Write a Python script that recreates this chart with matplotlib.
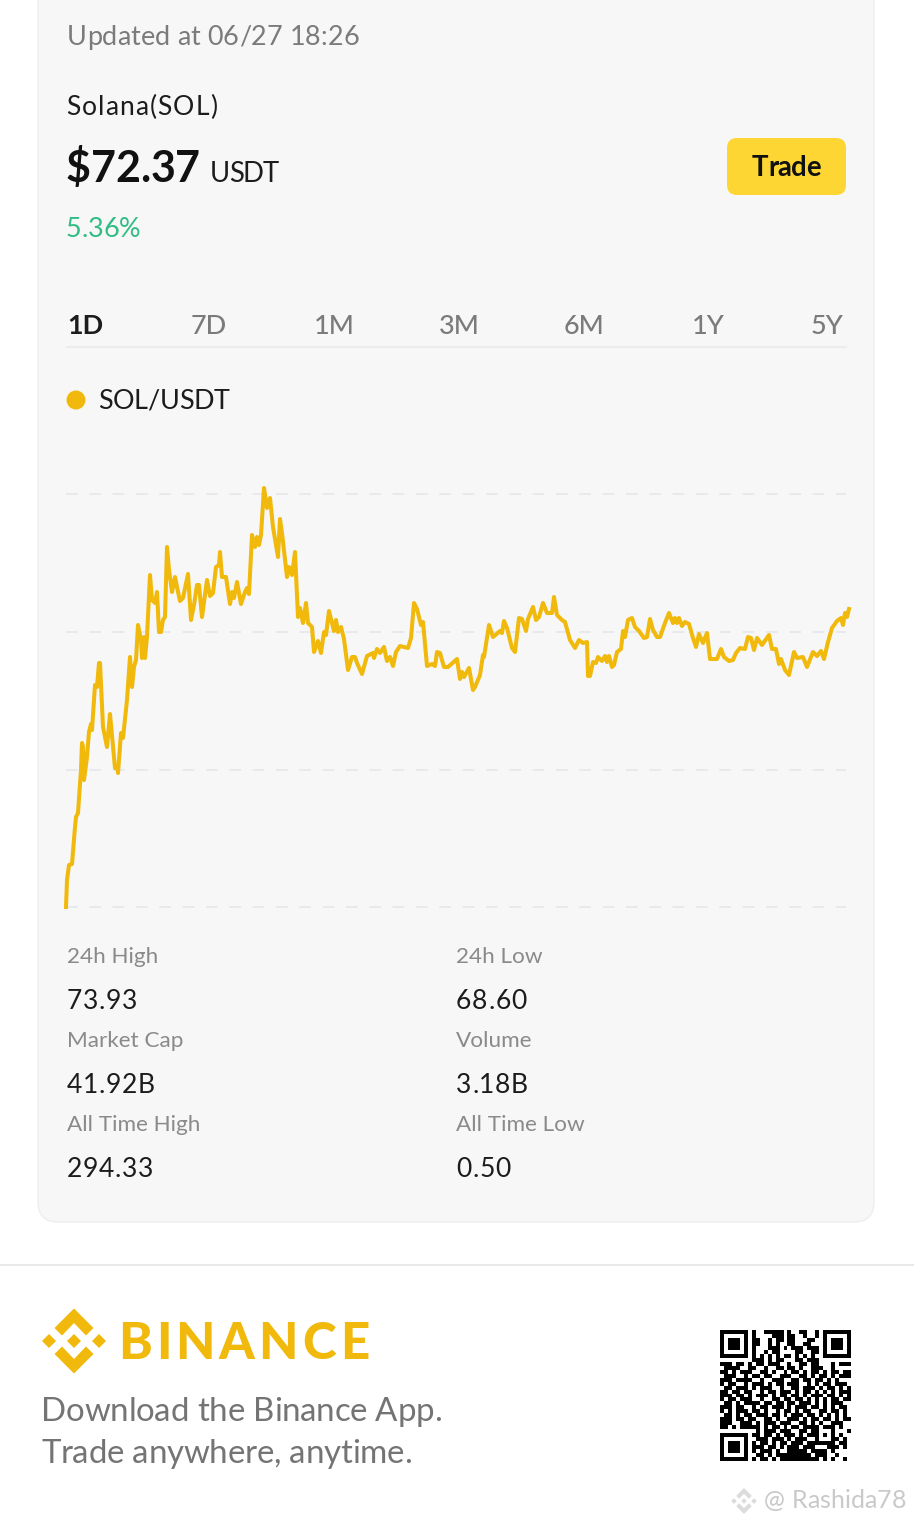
'''
Binance share card for SOL/USDT, 1D price chart
'''
import matplotlib
matplotlib.use('Agg')
import matplotlib.pyplot as plt
import matplotlib.patches as patches

## DATA ##

# time along the day (0 = open, 783 = now) and price level above the day's low
time_index = [0,1,3,6,9,10,12,15,16,17,18,21,23,25,26,29,31,33,34,37,38,41,44,49,51,52,55,57,61,64,66,68,70,72,75,76,78,79,81,84,86,89,91,93,95,97,99,101,103,106,109,111,114,117,122,125,128,131,133,136,141,144,147,150,153,154,156,160,164,166,168,171,175,179,181,183,186,189,191,193,195,198,201,204,207,212,214,216,221,223,226,229,232,234,237,240,242,246,248,252,255,258,260,263,
    268,270,272,275,278,282,286,289,291,296,301,307,308,311,314,318,321,324,327,330,334,342,345,348,351,355,357,361,366,369,371,374,378,382,391,394,396,398,403,407,409,414,417,418,423,427,434,436,438,441,446,449,453,456,460,462,467,470,473,477,481,486,488,491,496,499,
    504,509,513,517,521,522,524,527,530,532,536,539,541,543,546,548,551,555,557,559,562,566,569,573,578,581,584,587,591,594,599,603,607,609,611,613,616,619,623,627,630,633,637,641,644,651,655,658,663,667,670,674,679,682,685,688,691,696,703,706,710,713,715,719,723,728,731,737,741,747,751,755,758,762,766,771,775,777,779,781,783]
price_level = [0,27,42,43,80,90,94,137,164,160,127,150,175,183,177,222,220,244,244,180,175,160,193,139,141,134,174,169,207,250,220,240,247,282,267,249,270,249,270,332,307,304,315,275,275,287,290,360,337,315,330,320,306,309,333,287,302,322,322,290,327,311,314,340,342,355,330,330,303,315,309,325,303,315,319,313,372,360,370,362,372,419,399,409,380,350,388,374,330,340,332,355,290,299,284,304,284,280,255,266,254,275,272,296,
    276,287,275,280,268,237,250,250,244,233,251,254,249,258,254,260,246,250,241,255,261,259,269,304,298,282,285,241,243,241,255,254,240,240,248,228,235,230,239,217,220,232,252,250,282,270,276,274,286,279,259,255,289,288,276,288,300,287,290,304,294,294,310,292,287,285,
    267,259,267,264,265,231,231,245,244,250,246,251,245,251,240,242,255,258,276,270,287,289,280,276,269,270,288,277,270,270,284,294,284,289,284,289,281,285,283,269,260,273,264,274,248,248,258,250,246,247,254,259,258,270,269,257,269,262,272,258,258,243,248,237,232,255,249,250,240,255,251,256,248,265,279,286,289,282,294,290,298]
grid_levels = [0, 137, 275, 413]

tab_labels = ['1D', '7D', '1M', '3M', '6M', '1Y', '5Y']
stat_labels_left = ['24h High', 'Market Cap', 'All Time High']
stat_values_left = ['73.93', '41.92B', '294.33']
stat_labels_right = ['24h Low', 'Volume', 'All Time Low']
stat_values_right = ['68.60', '3.18B', '0.50']

# qr code, rows of modules as they look in the picture
qr_rows = [
    '#######.#..#####.#..##..#.#######',
    '#.....#.#....###.##..#..#.#.....#',
    '#.###.#.##..#.##.##...##..#.###.#',
    '#.###.#.##..#.#..##..##...#.###.#',
    '#.###.#.#...###.#.###.###.#.###.#',
    '#.....#.#..#.##....##..##.#.....#',
    '#######.#.#.#.#.##.#.#.#..#######',
    '........###.#.##...##.###........',
    '###.##.#.##.###..#..##.##...#.###',
    '.####..##..#..##.##.#..###..#....',
    '##.#.###..##.#..#.##.#.##.#.##.##',
    '.###..#.##.##..###..##.#.##.#.###',
    '###.####..#..###..##.##.##.#.#...',
    '#.##..#.###.#.##.###..#.#.##.###.',
    '.##.###.#.###..#..##.###.#.##.#.#',
    '##.##.##..#.##.###.#.##.#.#.#.###',
    '###.##.#.###.#.##.##.#.###.##.#.#',
    '#.##.###..#..##.##.##.#.#.#.##.##',
    '.##.#.####.##.##.##.###.#.#.###..',
    '###.##..#.##.###.#.###.##.#.#.##.',
    '#.#.###.##.#..#.##.#.##..##.##.#.',
    '.##.#.##.###.##.#.###.##.#.#.#.#.',
    '###.##.##..##.#..###.#.##.##.#.##',
    '###..###.#.###.###..##.#.#..###..',
    '##.#.#####.#.##.#.##.####.###.#..',
    '.........#.###.###..##.##...#...#',
    '#######.##.##.#.###.#.###.#.#.#..',
    '#.....#..###.###.#.###..#...##.#.',
    '#.###.#.#.##.#.##.###.#######.##.',
    '#.###.#.###.##.#.###.###...###.#.',
    '#.###.#.#.###.#..#####.####.#....',
    '#.....#..##.#.#########.###..#...',
    '#######.#.##.#.##########.#.#..#.',
]

## STYLE ##

plt.rcParams['font.family'] = ['Lato', 'DejaVu Sans']
YELLOW = '#F0B90B'
GREY = '#7b7b7b'
DARK = '#1c1c1c'

W, H = 914, 1525
fig = plt.figure(figsize=(W/100, H/100), dpi=100)
fig.patch.set_facecolor('white')

# page axes in picture units, y going down
page = fig.add_axes([0, 0, 1, 1])
page.set_xlim(0, W)
page.set_ylim(H, 0)
page.axis('off')

def px(size):
    return size*0.72

def text_width(s, size, weight):
    t = page.text(0, 0, s, fontsize=px(size), fontweight=weight)
    w = t.get_window_extent(fig.canvas.get_renderer()).width
    t.remove()
    return w

def label(x, y, s, size, color=DARK, weight='normal', ha='left', width=None):
    if width is None:
        page.text(x, y, s, fontsize=px(size), color=color, fontweight=weight, ha=ha, va='baseline')
        return
    # letter spacing stretched to the width of the text in the reference
    track = (width - text_width(s, size, weight))/(len(s)-1)
    for i, ch in enumerate(s):
        off = text_width(s[:i+1], size, weight) - text_width(ch, size, weight)
        page.text(x + off + i*track, y, ch, fontsize=px(size), color=color, fontweight=weight, ha='left', va='baseline')

## CARD ##

card = patches.FancyBboxPatch((38, -40), 836, 1262, boxstyle='round,pad=0,rounding_size=20',
                              facecolor='#f7f7f7', edgecolor='#eeeeee', linewidth=1)
page.add_patch(card)
page.plot([0, W], [1265, 1265], color='#e9e9e9', linewidth=1.5)

label(67, 45, 'Updated at 06/27 18:26', 27, GREY, width=292)
label(66, 115, 'Solana(SOL)', 26.5, DARK, width=151)
label(66, 182, '$72.37', 43, '#111111', 'bold', width=134)
label(210, 182, 'USDT', 27.5, DARK, width=69)
label(66, 237, '5.36%', 27, '#2fbd85', width=75)

button = patches.FancyBboxPatch((727, 138), 119, 57, boxstyle='round,pad=0,rounding_size=10',
                                facecolor='#fdd633', edgecolor='none')
page.add_patch(button)
label(752, 176, 'Trade', 27.5, '#111111', 'bold', width=69)

# time range tabs
tab_x = [67, 191, 314, 439, 564, 692, 811]
for i, tab in enumerate(tab_labels):
    if i == 0:
        label(tab_x[i], 334, tab, 27, DARK, 'bold')
    else:
        label(tab_x[i], 334, tab, 27, GREY, 'medium')
page.plot([67, 846], [347, 347], color='#ececec', linewidth=1.5)

# legend
page.add_patch(patches.Circle((76, 400), 9.5, facecolor=YELLOW, edgecolor='none'))
label(98, 409, 'SOL/USDT', 27, DARK, width=132)

## PRICE CHART ##

chart = fig.add_axes([66/W, 1-907/H, 783/W, 419/H])
chart.set_xlim(0, 783)
chart.set_ylim(0, 419)
chart.axis('off')
for level in grid_levels:
    chart.plot([0, 780], [level, level], color='#e8e9ec', linewidth=1.4, dashes=(6, 6), zorder=1, clip_on=False)
chart.plot(time_index, price_level, color=YELLOW, linewidth=2.9, solid_joinstyle='round', zorder=2, clip_on=False)

## STATS ##

stat_rows = [963, 1047, 1131]
left_widths = [70, 88, 86]
right_widths = [71, 72, 55]
for i in range(3):
    label(67, stat_rows[i], stat_labels_left[i], 22.5, '#8a8a8a')
    label(67, stat_rows[i]+46, stat_values_left[i], 26.5, DARK, width=left_widths[i])
    label(456, stat_rows[i], stat_labels_right[i], 22.5, '#8a8a8a')
    label(456, stat_rows[i]+46, stat_values_right[i], 26.5, DARK, width=right_widths[i])

## FOOTER ##

def diamond(cx, cy, r, color):
    page.add_patch(patches.Polygon([(cx, cy-r), (cx+r, cy), (cx, cy+r), (cx-r, cy)], facecolor=color, edgecolor='none'))

def logo(cx, cy, scale, color):
    diamond(cx, cy, 7*scale, color)
    diamond(cx-25*scale, cy, 7*scale, color)
    diamond(cx+25*scale, cy, 7*scale, color)
    for sign in [1, -1]:
        chevron = [(0, -32.5), (19.5, -13), (12, -5.5), (0, -18), (-12, -5.5), (-19.5, -13)]
        page.add_patch(patches.Polygon([(cx+a*scale, cy+sign*b*scale) for a, b in chevron], facecolor=color, edgecolor='none'))

logo(74, 1341, 1, YELLOW)
label(118, 1359, 'BINANCE', 51, YELLOW, 'black', width=251)
label(41, 1421, 'Download the Binance App.', 33, '#747474', width=401)
label(41, 1463, 'Trade anywhere, anytime.', 33, '#747474', width=371)

# qr code
qr_size = 131/33
for r, row in enumerate(qr_rows):
    for c, module in enumerate(row):
        if module == '#':
            page.add_patch(patches.Rectangle((720+c*qr_size, 1330+r*qr_size), qr_size, qr_size, facecolor='black', edgecolor='none'))

# watermark
logo(744, 1501, 0.4, '#dcdcdc')
label(764, 1508, '@ Rashida78', 25, '#c9c9c9', width=142)

fig.savefig('out.png', dpi=100)
